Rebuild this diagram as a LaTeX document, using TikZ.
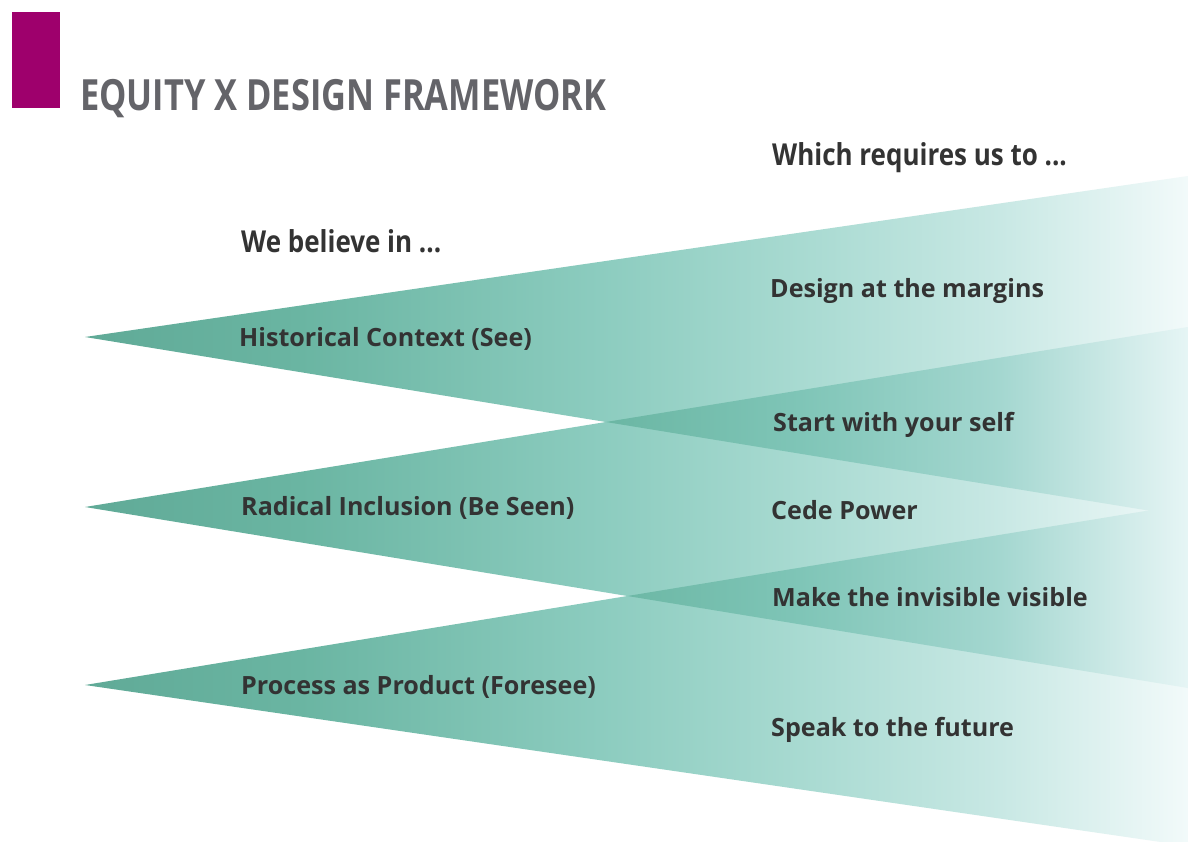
\documentclass[tikz,border=0pt]{standalone}
\usepackage{fontspec}
\setmainfont{Open Sans}
\newfontfamily\condfont[FakeStretch=0.8]{Open Sans}
\newfontfamily\headfont[FakeStretch=0.86]{Open Sans}
\definecolor{txt}{RGB}{51,51,51}
\definecolor{titlegray}{RGB}{100,100,105}
\definecolor{barmag}{RGB}{158,0,108}
\definecolor{sA}{RGB}{96,170,151}
\definecolor{sB}{RGB}{106,181,162}
\definecolor{sC}{RGB}{140,204,191}
\definecolor{sD}{RGB}{168,218,209}
\definecolor{sE}{RGB}{200,232,228}
\definecolor{sF}{RGB}{242,250,250}
\definecolor{oA}{RGB}{90,166,146}
\definecolor{oB}{RGB}{94,171,150}
\definecolor{oC}{RGB}{106,182,163}
\definecolor{oD}{RGB}{127,197,183}
\definecolor{oE}{RGB}{164,215,208}
\definecolor{oF}{RGB}{230,245,245}
\pgfdeclarehorizontalshading{wedgeshade}{100bp}{color(0bp)=(sA); color(25bp)=(sA); color(34.75bp)=(sB); color(48.35bp)=(sC); color(57.41bp)=(sD); color(66.48bp)=(sE); color(75bp)=(sF); color(100bp)=(sF)}
\pgfdeclarehorizontalshading{overshade}{100bp}{color(0bp)=(oA); color(25bp)=(oA); color(34.75bp)=(oB); color(48.35bp)=(oC); color(57.41bp)=(oD); color(66.48bp)=(oE); color(75bp)=(oF); color(100bp)=(oF)}
\begin{document}
\begin{tikzpicture}[x=1pt,y=-1pt,
  lbl/.style={anchor=base west, inner sep=0pt, text=txt, font=\fontsize{25.1}{28}\selectfont\bfseries},
  head/.style={anchor=base west, inner sep=0pt, text=txt, font=\headfont\fontsize{30.2}{34}\selectfont\bfseries},
  titlestyle/.style={anchor=base west, inner sep=0pt, text=titlegray, font=\condfont\fontsize{43}{48}\selectfont\bfseries},
  wedge/.style={shading=wedgeshade},
  overlap/.style={shading=overshade}]
\useasboundingbox (0,0) rectangle (1188,842);
\fill[white] (0,0) rectangle (1188,842);
% wedge corners
\coordinate (t1) at (85,337);  \coordinate (a1) at (1188,176); \coordinate (b1) at (1188,517);
\coordinate (t2) at (85,507);  \coordinate (a2) at (1188,327); \coordinate (b2) at (1188,688);
\coordinate (t3) at (85,685);  \coordinate (a3) at (1188,504); \coordinate (b3) at (1188,846);
% wedges
\shade[wedge] (t1) -- (a1) -- (b1) -- cycle;
\shade[wedge] (t2) -- (a2) -- (b2) -- cycle;
\shade[wedge] (t3) -- (a3) -- (b3) -- cycle;
% overlaps
\begin{scope}
  \clip (t1) -- (a1) -- (b1) -- cycle;
  \shade[overlap] (t2) -- (a2) -- (b2) -- cycle;
\end{scope}
\begin{scope}
  \clip (t2) -- (a2) -- (b2) -- cycle;
  \shade[overlap] (t3) -- (a3) -- (b3) -- cycle;
\end{scope}
% title
\node[fill=barmag, minimum width=48pt, minimum height=96pt, inner sep=0pt, anchor=north west] (bar) at (12,12) {};
\node[titlestyle] (title) at (80,111) {EQUITY X DESIGN FRAMEWORK};
% headings
\node[head] (believe) at (241,253) {We believe in ...};
\node[head] (requires) at (772,166) {Which requires us to ...};
% left labels
\node[lbl] (hist) at (239,346) {Historical Context (See)};
\node[lbl] (radical) at (241,515) {Radical Inclusion (Be Seen)};
\node[lbl] (process) at (241,694) {Process as Product (Foresee)};
% right labels
\node[lbl] (margins) at (770,298) {Design at the margins};
\node[lbl] (self) at (773,431) {Start with your self};
\node[lbl] (cede) at (771,519) {Cede Power};
\node[lbl] (invisible) at (772,606) {Make the invisible visible};
\node[lbl] (future) at (771,736) {Speak to the future};
\end{tikzpicture}
\end{document}
